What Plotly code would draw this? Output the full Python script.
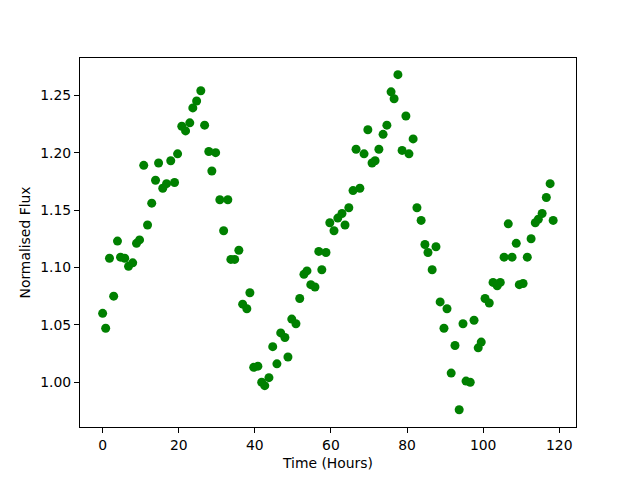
import plotly.graph_objects as go

time_hours = [0, 0.8, 1.8, 2.9, 3.9, 4.7, 5.8, 6.8, 7.9, 8.9,
              9.7, 10.8, 11.8, 12.9, 13.9, 14.7, 15.8, 16.8, 17.9, 18.9,
              19.7, 20.8, 21.8, 22.9, 23.7, 24.7, 25.8, 26.8, 27.9, 28.7,
              29.7, 30.8, 31.8, 32.9, 33.7, 34.7, 35.8, 36.8, 37.9, 38.7,
              39.7, 40.8, 41.8, 42.6, 43.7, 44.7, 45.8, 46.8, 47.9, 48.7,
              49.7, 50.8, 51.8, 52.9, 53.7, 54.7, 55.8, 56.8, 57.6, 58.7,
              59.7, 60.8, 61.8, 62.9, 63.7, 64.7, 65.8, 66.6, 67.6, 68.7,
              69.7, 70.8, 71.6, 72.6, 73.7, 74.7, 75.8, 76.6, 77.6, 78.7,
              79.7, 80.5, 81.6, 82.6, 83.7, 84.7, 85.5, 86.6, 87.6, 88.7,
              89.7, 90.5, 91.6, 92.6, 93.7, 94.7, 95.5, 96.6, 97.6, 98.7,
              99.5, 100.5, 101.6, 102.6, 103.7, 104.5, 105.5, 106.6, 107.6, 108.7,
              109.5, 110.5, 111.6, 112.6, 113.7, 114.5, 115.5, 116.6, 117.6, 118.4]

flux = [1.060, 1.047, 1.108, 1.075, 1.123, 1.109, 1.108, 1.101, 1.104, 1.121,
        1.124, 1.189, 1.137, 1.156, 1.176, 1.191, 1.169, 1.173, 1.193, 1.174,
        1.199, 1.223, 1.219, 1.226, 1.239, 1.245, 1.254, 1.224, 1.201, 1.184,
        1.200, 1.159, 1.132, 1.159, 1.107, 1.107, 1.115, 1.068, 1.064, 1.078,
        1.013, 1.014, 1.000, 0.997, 1.004, 1.031, 1.016, 1.043, 1.039, 1.022,
        1.055, 1.051, 1.073, 1.094, 1.097, 1.085, 1.083, 1.114, 1.098, 1.113,
        1.139, 1.132, 1.143, 1.147, 1.137, 1.152, 1.167, 1.203, 1.169, 1.199,
        1.220, 1.191, 1.193, 1.203, 1.216, 1.224, 1.253, 1.247, 1.268, 1.202,
        1.232, 1.199, 1.212, 1.152, 1.141, 1.120, 1.113, 1.098, 1.118, 1.070,
        1.047, 1.064, 1.008, 1.032, 0.976, 1.051, 1.001, 1.000, 1.054, 1.030,
        1.035, 1.073, 1.069, 1.087, 1.084, 1.087, 1.109, 1.138, 1.109, 1.121,
        1.085, 1.086, 1.109, 1.125, 1.139, 1.142, 1.147, 1.161, 1.173, 1.141]

x_ticks = [0, 20, 40, 60, 80, 100, 120]
y_ticks = [1.00, 1.05, 1.10, 1.15, 1.20, 1.25]

fig = go.Figure()
fig.add_trace(go.Scatter(
    x=time_hours, y=flux, mode="markers",
    marker=dict(color="#008000", size=9, line=dict(width=0)),
    showlegend=False,
))

axis_common = dict(
    showgrid=False, zeroline=False, showline=True, linecolor="black",
    linewidth=1, mirror=True, ticks="outside", ticklen=5, tickwidth=1,
    tickcolor="black", tickfont=dict(size=13.9, color="black"),
    automargin=False,
)

fig.update_layout(
    width=640, height=480,
    margin=dict(l=72, r=72, t=50, b=61),
    paper_bgcolor="white", plot_bgcolor="white",
    font=dict(family="DejaVu Sans", size=13.9, color="black"),
    xaxis=dict(range=[-5.95, 124.4], tickvals=x_ticks,
               ticktext=[str(v) for v in x_ticks],
               title=dict(text="Time (Hours)", standoff=6, font=dict(size=13.9)),
               **axis_common),
    yaxis=dict(range=[0.961, 1.2825], tickvals=y_ticks,
               ticktext=[f"{v:.2f}" for v in y_ticks],
               title=dict(text="Normalised Flux", standoff=6, font=dict(size=13.9)),
               **axis_common),
)

fig.write_html("out.html")
